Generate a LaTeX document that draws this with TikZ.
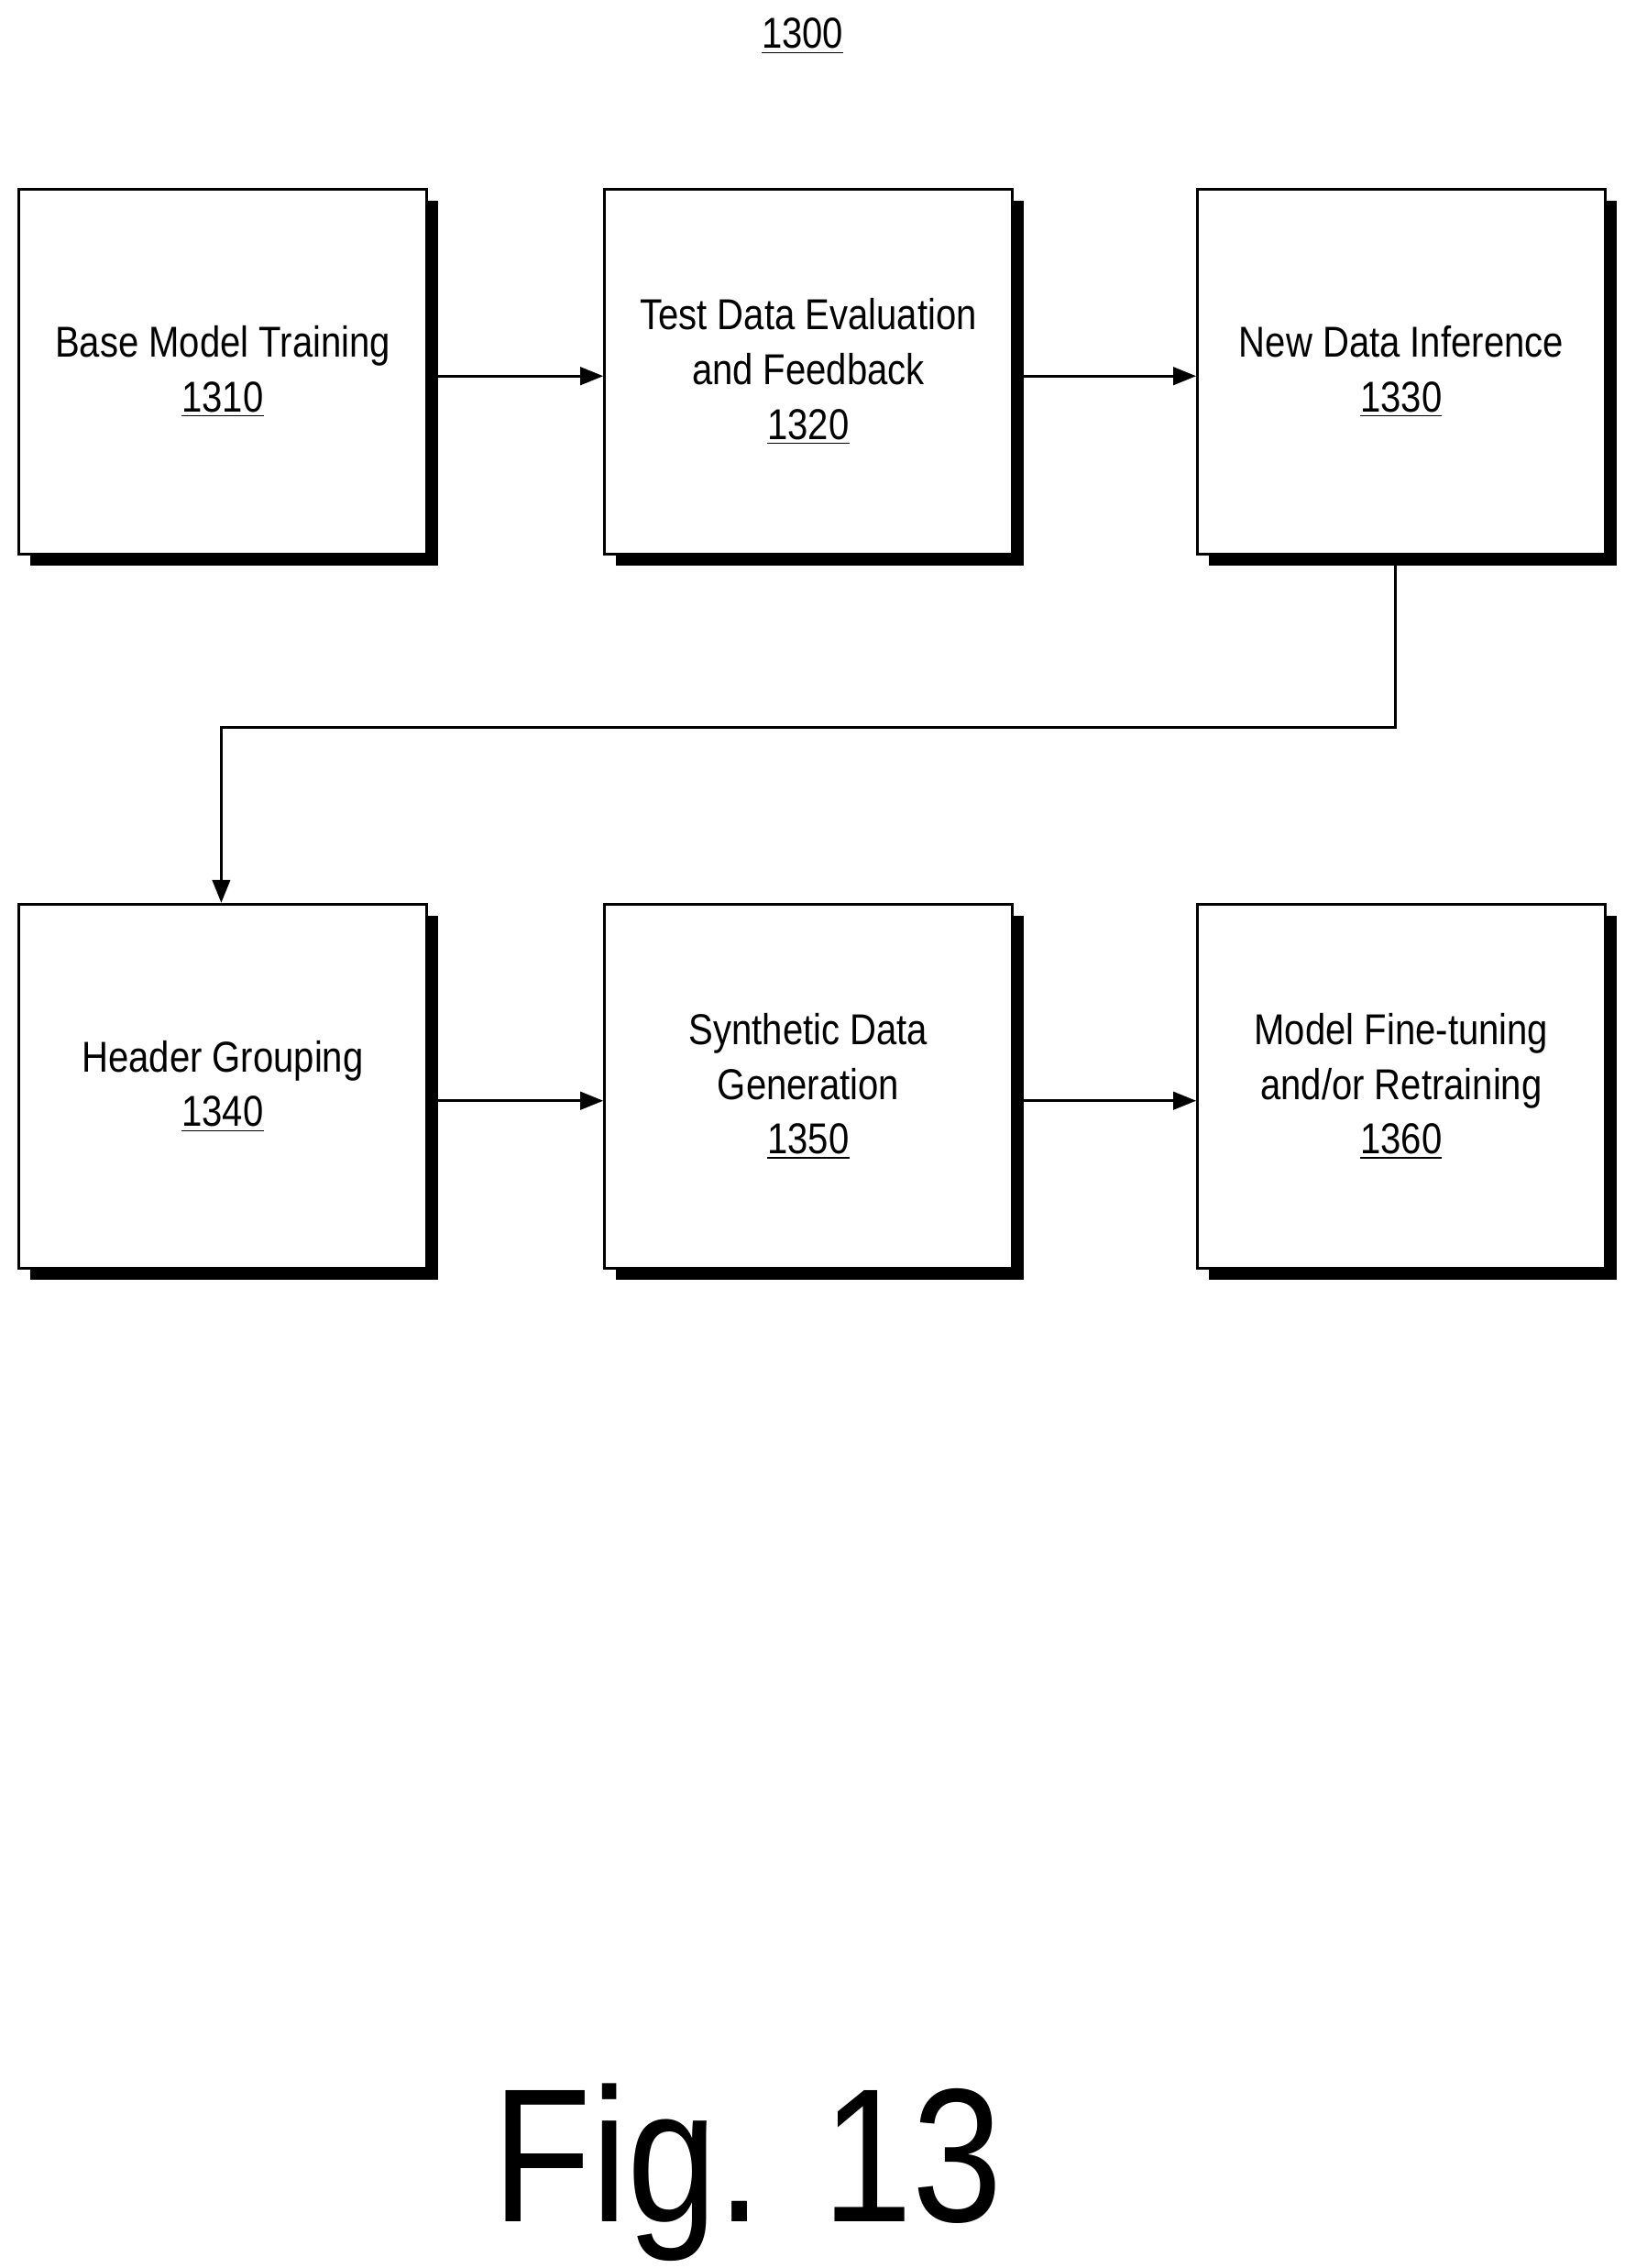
\documentclass[tikz,border=0pt]{standalone}
\usepackage{fontspec}
\setmainfont{Liberation Sans}[FakeStretch=0.85]
\usetikzlibrary{arrows.meta}
\begin{document}
\begin{tikzpicture}[x=0.02cm,y=-0.02cm,
 box/.style={draw,line width=1pt,fill=white,minimum width=5.64cm,minimum height=5.04cm,align=center,font=\fontsize{17}{21.5}\selectfont,
   append after command={}},
 shadow/.style={fill=black},
 arr/.style={line width=1pt,-{Triangle[length=9pt,width=7pt]}}]
\useasboundingbox (0,0) rectangle (1131,1568);
\node[font=\fontsize{17}{20}\selectfont] (t) at (555,25) {\underline{1300}};
\foreach \n/\x/\y/\t in {a/154/257/{Base Model Training\\\underline{1310}},
 b/559/257/{Test Data Evaluation\\and Feedback\\\underline{1320}},
 c/969/257/{New Data Inference\\\underline{1330}},
 d/154/751/{Header Grouping\\\underline{1340}},
 e/559/751/{Synthetic Data\\Generation\\\underline{1350}},
 f/969/751/{Model Fine-tuning\\and/or Retraining\\\underline{1360}}}{
 \fill (\x-133,\y-118) rectangle (\x+149,\y+134);
 \node[box] (\n) at (\x,\y) {\t};
}
\draw[arr] (a.east|-0,260) -- (b.west|-0,260);
\draw[arr] (b.east|-0,260) -- (c.west|-0,260);
\draw[arr] (d.east|-0,761) -- (e.west|-0,761);
\draw[arr] (e.east|-0,761) -- (f.west|-0,761);
\coordinate (k1) at (965,503);
\coordinate (k2) at (153,503);
\draw[arr] (c.south-|k1) -- (k1) -- (k2) -- (d.north-|k2);
\node[font=\fontsize{75}{80}\selectfont] (fig) at (517,1502) {Fig. 13};
\end{tikzpicture}
\end{document}
